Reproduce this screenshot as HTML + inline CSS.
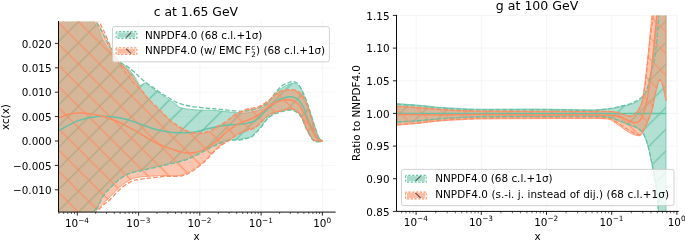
<!DOCTYPE html>
<html lang="en"><head><meta charset="utf-8"><title>PDF comparison</title>
<style>html,body{margin:0;padding:0;background:#fff}body{width:685px;height:240px;overflow:hidden}svg text{fill:#000}svg{will-change:transform;-webkit-font-smoothing:antialiased}</style></head>
<body>
<svg width="685" height="240" viewBox="0 0 685 240" style="display:block;font-family:'DejaVu Sans', 'Liberation Sans', sans-serif">
<rect width="685" height="240" fill="#fff"/>
<defs>
<pattern id="hg" width="21.18" height="21.18" patternUnits="userSpaceOnUse" patternTransform="translate(15.30 0)"><path d="M-1 1L1 -1M-1 22.18L22.18 -1M20.18 22.18L22.18 20.18" stroke="#66c2a5" stroke-width="1.2" fill="none"/></pattern>
<pattern id="ho" width="21.18" height="21.18" patternUnits="userSpaceOnUse" patternTransform="translate(14.50 0)"><path d="M-1 -1L22.18 22.18M20.18 -1L22.18 1M-1 20.18L1 22.18" stroke="#fc8d62" stroke-width="1.2" stroke-opacity="0.88" fill="none"/></pattern>
<pattern id="hg2" width="21.67" height="21.67" patternUnits="userSpaceOnUse" patternTransform="translate(15.05 0)"><path d="M-1 1L1 -1M-1 22.67L22.67 -1M20.67 22.67L22.67 20.67" stroke="#66c2a5" stroke-width="1.2" fill="none"/></pattern>
<pattern id="ho2" width="21.67" height="21.67" patternUnits="userSpaceOnUse" patternTransform="translate(5.50 0)"><path d="M-1 -1L22.67 22.67M20.67 -1L22.67 1M-1 20.67L1 22.67" stroke="#fc8d62" stroke-width="1.2" stroke-opacity="0.88" fill="none"/></pattern>
<clipPath id="cl"><rect x="58.5" y="21.5" width="276.6" height="190.6"/></clipPath>
<clipPath id="cr"><rect x="396.5" y="15.4" width="281.8" height="196.0"/></clipPath>
</defs>
<line x1="77.3" y1="21.5" x2="77.3" y2="212.1" stroke="#f3f3f3" stroke-width="0.85"/>
<line x1="138.6" y1="21.5" x2="138.6" y2="212.1" stroke="#f3f3f3" stroke-width="0.85"/>
<line x1="199.8" y1="21.5" x2="199.8" y2="212.1" stroke="#f3f3f3" stroke-width="0.85"/>
<line x1="261.1" y1="21.5" x2="261.1" y2="212.1" stroke="#f3f3f3" stroke-width="0.85"/>
<line x1="322.4" y1="21.5" x2="322.4" y2="212.1" stroke="#f3f3f3" stroke-width="0.85"/>
<line x1="58.5" y1="43.4" x2="335.1" y2="43.4" stroke="#f3f3f3" stroke-width="0.85"/>
<line x1="58.5" y1="67.8" x2="335.1" y2="67.8" stroke="#f3f3f3" stroke-width="0.85"/>
<line x1="58.5" y1="92.2" x2="335.1" y2="92.2" stroke="#f3f3f3" stroke-width="0.85"/>
<line x1="58.5" y1="116.6" x2="335.1" y2="116.6" stroke="#f3f3f3" stroke-width="0.85"/>
<line x1="58.5" y1="141.0" x2="335.1" y2="141.0" stroke="#f3f3f3" stroke-width="0.85"/>
<line x1="58.5" y1="165.4" x2="335.1" y2="165.4" stroke="#f3f3f3" stroke-width="0.85"/>
<line x1="58.5" y1="189.8" x2="335.1" y2="189.8" stroke="#f3f3f3" stroke-width="0.85"/>
<g clip-path="url(#cl)">
<path d="M50.0 -40.0C57.3 -29.8 85.0 8.2 93.7 21.5C102.5 34.8 99.6 34.3 102.5 39.5C105.4 44.7 109.0 49.5 111.2 52.6C113.4 55.7 114.0 56.5 115.5 58.0C117.0 59.5 118.2 60.3 120.0 61.8C121.8 63.2 124.4 65.1 126.2 66.7C128.0 68.3 129.2 69.8 130.7 71.6C132.2 73.4 133.8 75.3 135.2 77.5C136.6 79.7 138.4 83.3 139.3 84.6C140.2 85.9 139.6 85.6 140.6 85.3C141.6 85.0 144.0 82.9 145.4 82.9C146.8 83.0 147.5 84.5 149.0 85.6C150.5 86.7 152.1 88.0 154.2 89.5C156.3 91.0 159.0 92.8 161.4 94.5C163.8 96.2 166.2 97.7 168.7 99.4C171.2 101.1 174.9 103.5 176.6 104.8C178.3 106.1 177.4 106.3 179.0 107.0C180.6 107.7 182.7 108.4 186.2 108.9C189.7 109.4 196.2 109.9 200.2 110.1C204.2 110.3 207.0 110.1 210.0 110.2C213.0 110.3 212.7 110.3 218.0 110.8C223.3 111.3 236.3 112.8 241.6 113.0C246.9 113.2 247.3 112.7 250.0 112.3C252.7 111.9 255.5 111.5 258.0 110.5C260.5 109.5 262.8 107.9 265.0 106.0C267.2 104.1 268.8 101.5 271.0 99.0C273.2 96.5 275.7 93.1 278.0 91.0C280.3 88.9 282.4 87.6 285.0 86.3C287.6 85.0 291.0 83.2 293.3 83.2C295.6 83.2 297.4 84.4 299.0 86.0C300.6 87.6 301.5 90.2 302.8 93.0C304.1 95.8 305.5 99.0 307.0 103.0C308.5 107.0 310.4 112.8 311.8 117.0C313.2 121.2 314.2 124.7 315.3 128.0C316.4 131.3 317.3 134.8 318.5 137.0C319.7 139.2 321.8 140.3 322.4 141.0L322.4 141.0C321.2 141.0 316.8 141.4 315.0 140.8C313.2 140.2 313.0 139.7 311.5 137.6C310.0 135.5 307.9 131.4 306.2 128.0C304.5 124.5 302.9 119.6 301.4 116.9C299.9 114.2 298.6 113.0 297.0 111.8C295.4 110.6 293.8 109.8 291.7 109.5C289.6 109.2 287.3 109.8 284.7 110.3C282.1 110.8 278.3 112.0 276.0 112.8C273.7 113.6 272.7 114.1 271.0 115.3C269.3 116.5 267.8 117.9 266.0 120.0C264.2 122.1 261.7 126.0 260.0 128.0C258.3 130.1 257.1 130.9 255.6 132.3C254.1 133.7 253.5 135.4 251.0 136.6C248.5 137.8 244.3 138.6 240.5 139.2C236.7 139.8 232.1 139.2 228.2 140.0C224.3 140.8 221.2 142.2 217.0 144.0C212.8 145.8 208.1 148.5 203.0 151.0C197.9 153.5 193.2 156.8 186.6 159.1C180.0 161.4 170.2 163.3 163.3 165.0C156.4 166.7 150.4 167.9 145.0 169.2C139.6 170.5 134.7 171.3 130.8 172.6C126.9 173.9 124.6 175.1 121.6 177.2C118.5 179.3 115.5 182.1 112.5 185.2C109.5 188.2 106.0 191.5 103.3 195.5C100.6 199.5 98.1 206.3 96.4 209.0C94.7 211.7 100.7 203.0 93.0 211.5C85.3 220.0 57.2 251.9 50.0 260.0Z" fill="#66c2a5" fill-opacity="0.5" stroke="none"/>
<path d="M50.0 -40.0C57.3 -29.8 85.0 8.2 93.7 21.5C102.5 34.8 99.6 34.3 102.5 39.5C105.4 44.7 109.0 49.5 111.2 52.6C113.4 55.7 114.0 56.5 115.5 58.0C117.0 59.5 118.2 60.3 120.0 61.8C121.8 63.2 124.4 65.1 126.2 66.7C128.0 68.3 129.2 69.8 130.7 71.6C132.2 73.4 133.8 75.3 135.2 77.5C136.6 79.7 138.4 83.3 139.3 84.6C140.2 85.9 139.6 85.6 140.6 85.3C141.6 85.0 144.0 82.9 145.4 82.9C146.8 83.0 147.5 84.5 149.0 85.6C150.5 86.7 152.1 88.0 154.2 89.5C156.3 91.0 159.0 92.8 161.4 94.5C163.8 96.2 166.2 97.7 168.7 99.4C171.2 101.1 174.9 103.5 176.6 104.8C178.3 106.1 177.4 106.3 179.0 107.0C180.6 107.7 182.7 108.4 186.2 108.9C189.7 109.4 196.2 109.9 200.2 110.1C204.2 110.3 207.0 110.1 210.0 110.2C213.0 110.3 212.7 110.3 218.0 110.8C223.3 111.3 236.3 112.8 241.6 113.0C246.9 113.2 247.3 112.7 250.0 112.3C252.7 111.9 255.5 111.5 258.0 110.5C260.5 109.5 262.8 107.9 265.0 106.0C267.2 104.1 268.8 101.5 271.0 99.0C273.2 96.5 275.7 93.1 278.0 91.0C280.3 88.9 282.4 87.6 285.0 86.3C287.6 85.0 291.0 83.2 293.3 83.2C295.6 83.2 297.4 84.4 299.0 86.0C300.6 87.6 301.5 90.2 302.8 93.0C304.1 95.8 305.5 99.0 307.0 103.0C308.5 107.0 310.4 112.8 311.8 117.0C313.2 121.2 314.2 124.7 315.3 128.0C316.4 131.3 317.3 134.8 318.5 137.0C319.7 139.2 321.8 140.3 322.4 141.0L322.4 141.0C321.2 141.0 316.8 141.4 315.0 140.8C313.2 140.2 313.0 139.7 311.5 137.6C310.0 135.5 307.9 131.4 306.2 128.0C304.5 124.5 302.9 119.6 301.4 116.9C299.9 114.2 298.6 113.0 297.0 111.8C295.4 110.6 293.8 109.8 291.7 109.5C289.6 109.2 287.3 109.8 284.7 110.3C282.1 110.8 278.3 112.0 276.0 112.8C273.7 113.6 272.7 114.1 271.0 115.3C269.3 116.5 267.8 117.9 266.0 120.0C264.2 122.1 261.7 126.0 260.0 128.0C258.3 130.1 257.1 130.9 255.6 132.3C254.1 133.7 253.5 135.4 251.0 136.6C248.5 137.8 244.3 138.6 240.5 139.2C236.7 139.8 232.1 139.2 228.2 140.0C224.3 140.8 221.2 142.2 217.0 144.0C212.8 145.8 208.1 148.5 203.0 151.0C197.9 153.5 193.2 156.8 186.6 159.1C180.0 161.4 170.2 163.3 163.3 165.0C156.4 166.7 150.4 167.9 145.0 169.2C139.6 170.5 134.7 171.3 130.8 172.6C126.9 173.9 124.6 175.1 121.6 177.2C118.5 179.3 115.5 182.1 112.5 185.2C109.5 188.2 106.0 191.5 103.3 195.5C100.6 199.5 98.1 206.3 96.4 209.0C94.7 211.7 100.7 203.0 93.0 211.5C85.3 220.0 57.2 251.9 50.0 260.0Z" fill="url(#hg)" stroke="#66c2a5" stroke-width="0.85" stroke-opacity="0.9"/>
<path d="M52.0 -40.0C59.4 -29.8 87.8 8.5 96.6 21.5C105.3 34.5 102.2 33.4 104.5 38.0C106.8 42.6 108.9 45.8 110.5 49.0C112.1 52.2 112.7 55.0 114.0 57.2C115.3 59.4 116.8 60.7 118.6 62.4C120.4 64.1 123.3 65.9 125.1 67.6C126.9 69.3 128.0 70.7 129.5 72.4C131.0 74.2 132.2 75.6 133.9 78.1C135.6 80.6 137.4 84.0 139.6 87.2C141.8 90.4 144.6 94.5 146.9 97.3C149.2 100.1 150.3 101.2 153.3 104.3C156.3 107.4 161.1 112.4 165.0 116.0C168.9 119.6 172.7 123.1 176.6 125.8C180.5 128.5 185.2 130.7 188.3 132.0C191.4 133.3 193.1 133.4 195.0 133.7C196.9 134.0 198.2 133.7 200.0 133.6C201.8 133.5 203.4 133.5 205.5 132.9C207.6 132.3 210.8 131.0 212.5 130.2C214.2 129.4 213.7 129.4 216.0 128.0C218.3 126.6 223.4 124.1 226.5 122.0C229.6 119.9 231.3 117.5 234.6 115.5C237.9 113.5 242.4 111.5 246.3 110.2C250.2 108.9 254.5 109.1 258.0 107.8C261.5 106.5 264.5 104.5 267.2 102.5C269.9 100.5 271.9 97.8 274.2 96.0C276.5 94.2 278.6 92.5 281.2 91.6C283.8 90.7 287.4 90.4 290.0 90.4C292.6 90.4 295.0 90.7 297.0 91.6C299.0 92.5 300.8 94.1 302.2 96.0C303.6 97.9 304.5 100.2 305.7 103.0C306.9 105.8 307.8 108.3 309.2 112.6C310.6 116.8 312.7 124.2 314.1 128.5C315.5 132.8 316.2 136.4 317.6 138.5C319.0 140.6 321.6 140.6 322.4 141.0L322.4 141.0C321.2 140.9 316.8 141.1 315.0 140.4C313.2 139.7 313.0 139.2 311.5 137.0C310.0 134.8 307.9 130.7 306.2 127.2C304.5 123.7 302.9 118.7 301.4 116.0C299.9 113.3 298.6 112.0 297.0 110.8C295.4 109.6 293.8 108.8 291.7 108.6C289.6 108.4 287.3 108.8 284.7 109.4C282.1 110.0 278.6 111.1 276.0 112.0C273.4 112.9 271.3 113.1 269.0 114.6C266.7 116.1 264.3 118.9 262.0 121.0C259.7 123.1 257.4 125.7 255.0 127.2C252.6 128.7 250.2 128.9 247.5 129.9C244.8 130.9 241.9 131.7 238.7 133.4C235.5 135.2 231.1 138.5 228.2 140.4C225.3 142.3 223.8 142.7 221.2 144.7C218.6 146.7 215.2 150.0 212.5 152.6C209.8 155.2 208.5 157.5 205.3 160.3C202.2 163.1 197.9 167.1 193.6 169.6C189.3 172.1 184.6 174.5 179.6 175.5C174.6 176.5 169.9 175.2 163.3 175.5C156.7 175.8 145.4 176.3 140.0 177.0C134.6 177.7 134.2 177.8 130.8 179.5C127.4 181.2 123.1 184.2 119.3 187.5C115.5 190.8 112.0 195.0 108.0 199.0C104.0 203.0 105.0 201.0 95.3 211.5C85.6 222.0 57.5 253.6 50.0 262.0Z" fill="#fc8d62" fill-opacity="0.5" stroke="none"/>
<path d="M52.0 -40.0C59.4 -29.8 87.8 8.5 96.6 21.5C105.3 34.5 102.2 33.4 104.5 38.0C106.8 42.6 108.9 45.8 110.5 49.0C112.1 52.2 112.7 55.0 114.0 57.2C115.3 59.4 116.8 60.7 118.6 62.4C120.4 64.1 123.3 65.9 125.1 67.6C126.9 69.3 128.0 70.7 129.5 72.4C131.0 74.2 132.2 75.6 133.9 78.1C135.6 80.6 137.4 84.0 139.6 87.2C141.8 90.4 144.6 94.5 146.9 97.3C149.2 100.1 150.3 101.2 153.3 104.3C156.3 107.4 161.1 112.4 165.0 116.0C168.9 119.6 172.7 123.1 176.6 125.8C180.5 128.5 185.2 130.7 188.3 132.0C191.4 133.3 193.1 133.4 195.0 133.7C196.9 134.0 198.2 133.7 200.0 133.6C201.8 133.5 203.4 133.5 205.5 132.9C207.6 132.3 210.8 131.0 212.5 130.2C214.2 129.4 213.7 129.4 216.0 128.0C218.3 126.6 223.4 124.1 226.5 122.0C229.6 119.9 231.3 117.5 234.6 115.5C237.9 113.5 242.4 111.5 246.3 110.2C250.2 108.9 254.5 109.1 258.0 107.8C261.5 106.5 264.5 104.5 267.2 102.5C269.9 100.5 271.9 97.8 274.2 96.0C276.5 94.2 278.6 92.5 281.2 91.6C283.8 90.7 287.4 90.4 290.0 90.4C292.6 90.4 295.0 90.7 297.0 91.6C299.0 92.5 300.8 94.1 302.2 96.0C303.6 97.9 304.5 100.2 305.7 103.0C306.9 105.8 307.8 108.3 309.2 112.6C310.6 116.8 312.7 124.2 314.1 128.5C315.5 132.8 316.2 136.4 317.6 138.5C319.0 140.6 321.6 140.6 322.4 141.0L322.4 141.0C321.2 140.9 316.8 141.1 315.0 140.4C313.2 139.7 313.0 139.2 311.5 137.0C310.0 134.8 307.9 130.7 306.2 127.2C304.5 123.7 302.9 118.7 301.4 116.0C299.9 113.3 298.6 112.0 297.0 110.8C295.4 109.6 293.8 108.8 291.7 108.6C289.6 108.4 287.3 108.8 284.7 109.4C282.1 110.0 278.6 111.1 276.0 112.0C273.4 112.9 271.3 113.1 269.0 114.6C266.7 116.1 264.3 118.9 262.0 121.0C259.7 123.1 257.4 125.7 255.0 127.2C252.6 128.7 250.2 128.9 247.5 129.9C244.8 130.9 241.9 131.7 238.7 133.4C235.5 135.2 231.1 138.5 228.2 140.4C225.3 142.3 223.8 142.7 221.2 144.7C218.6 146.7 215.2 150.0 212.5 152.6C209.8 155.2 208.5 157.5 205.3 160.3C202.2 163.1 197.9 167.1 193.6 169.6C189.3 172.1 184.6 174.5 179.6 175.5C174.6 176.5 169.9 175.2 163.3 175.5C156.7 175.8 145.4 176.3 140.0 177.0C134.6 177.7 134.2 177.8 130.8 179.5C127.4 181.2 123.1 184.2 119.3 187.5C115.5 190.8 112.0 195.0 108.0 199.0C104.0 203.0 105.0 201.0 95.3 211.5C85.6 222.0 57.5 253.6 50.0 262.0Z" fill="url(#ho)" stroke="#fc8d62" stroke-width="0.85" stroke-opacity="0.9"/>
<path d="M59.0 130.4C62.2 128.8 72.0 122.9 78.3 120.6C84.6 118.3 90.8 117.0 97.0 116.4C103.2 115.9 110.4 116.7 115.6 117.3C120.8 117.9 124.3 118.8 128.0 119.8C131.7 120.8 133.0 121.4 137.5 123.0C142.0 124.6 149.2 127.6 155.0 129.2C160.8 130.8 167.5 131.8 172.5 132.4C177.5 133.0 181.2 132.9 185.0 132.8C188.8 132.7 191.0 132.7 195.0 132.0C199.0 131.3 204.3 129.6 209.0 128.5C213.7 127.4 217.6 126.2 223.0 125.5C228.4 124.8 236.2 124.9 241.6 124.1C247.0 123.3 251.9 122.5 255.6 120.6C259.3 118.7 261.5 114.8 264.0 112.5C266.5 110.2 268.1 108.7 270.7 106.5C273.3 104.3 276.6 101.1 279.5 99.5C282.4 97.9 285.7 97.2 288.2 96.9C290.7 96.6 292.5 96.7 294.4 97.4C296.3 98.1 298.0 99.4 299.6 101.2C301.2 103.0 302.8 105.7 304.0 108.2C305.2 110.7 305.4 113.0 306.6 116.1C307.8 119.2 309.5 123.3 311.1 126.8C312.7 130.3 314.1 134.6 316.0 137.0C317.9 139.4 321.3 140.3 322.4 141.0" fill="none" stroke="#66c2a5" stroke-width="1.5"/>
<path d="M60.0 -40.0C66.0 -29.8 88.6 9.2 95.8 21.5C103.0 33.8 100.7 29.4 103.0 33.5C105.3 37.6 107.5 42.2 109.5 46.0C111.5 49.8 113.2 53.6 115.2 56.5C117.2 59.4 119.5 61.5 121.6 63.2C123.7 64.9 125.8 65.4 127.7 66.7C129.6 68.0 131.4 69.7 133.0 71.1C134.6 72.5 136.1 73.8 137.4 75.1C138.7 76.3 139.3 77.2 140.9 78.6C142.5 79.9 144.7 81.6 146.9 83.2C149.1 84.8 151.8 86.6 154.2 88.3C156.6 90.0 159.0 91.8 161.4 93.4C163.8 95.0 166.2 96.3 168.7 97.8C171.2 99.3 172.9 100.9 176.6 102.3C180.2 103.7 185.0 105.3 190.6 106.3C196.2 107.3 205.4 108.0 210.0 108.5C214.6 109.0 213.0 108.5 218.3 109.0C223.6 109.5 235.4 111.3 241.6 111.3C247.8 111.3 251.3 110.3 255.6 109.0C259.9 107.7 264.2 105.7 267.3 103.2C270.4 100.7 271.9 97.0 274.2 94.2C276.5 91.4 278.9 88.3 281.2 86.4C283.5 84.5 286.1 83.7 288.2 82.9C290.2 82.1 291.8 81.3 293.5 81.6C295.2 81.9 297.1 82.8 298.7 84.6C300.3 86.4 301.8 89.7 303.1 92.5C304.4 95.3 305.4 98.0 306.6 101.2C307.8 104.4 308.7 107.2 310.1 111.7C311.6 116.2 313.8 123.6 315.3 128.0C316.8 132.4 317.8 135.8 319.0 138.0C320.2 140.2 321.8 140.5 322.4 141.0" fill="none" stroke="#66c2a5" stroke-width="1.3" stroke-dasharray="4.6 2"/>
<path d="M50.0 260.6C57.2 252.5 85.3 220.6 93.0 212.1C100.7 203.6 94.7 212.3 96.4 209.6C98.1 206.9 100.6 200.1 103.3 196.1C106.0 192.1 109.5 188.8 112.5 185.8C115.5 182.7 118.5 179.9 121.6 177.8C124.6 175.7 126.9 174.5 130.8 173.2C134.7 171.9 139.6 171.1 145.0 169.8C150.4 168.5 156.4 167.3 163.3 165.6C170.2 163.9 180.0 162.0 186.6 159.7C193.2 157.4 197.9 154.1 203.0 151.6C208.1 149.1 212.8 146.4 217.0 144.6C221.2 142.8 224.3 141.4 228.2 140.6C232.1 139.8 236.7 140.4 240.5 139.8C244.3 139.2 248.5 138.3 251.0 137.2C253.5 136.0 254.1 134.3 255.6 132.9C257.1 131.5 258.3 130.7 260.0 128.6C261.7 126.5 264.2 122.7 266.0 120.6C267.8 118.5 269.3 117.1 271.0 115.9C272.7 114.7 273.7 114.2 276.0 113.4C278.3 112.6 282.1 111.4 284.7 110.9C287.3 110.3 289.6 109.8 291.7 110.1C293.8 110.3 295.4 111.2 297.0 112.4C298.6 113.6 299.9 114.8 301.4 117.5C302.9 120.2 304.5 125.1 306.2 128.6C307.9 132.0 310.0 136.1 311.5 138.2C313.0 140.3 313.2 140.8 315.0 141.4C316.8 142.0 321.2 141.6 322.4 141.6" fill="none" stroke="#66c2a5" stroke-width="1.3" stroke-dasharray="4.6 2"/>
<path d="M59.0 117.8C60.7 117.2 65.0 114.9 69.0 114.1C73.0 113.3 77.6 112.7 83.0 113.0C88.4 113.3 95.8 114.5 101.6 116.0C107.4 117.5 113.6 120.0 118.0 121.8C122.4 123.6 124.8 125.1 128.0 126.8C131.2 128.5 133.0 129.3 137.5 131.9C142.0 134.5 149.5 139.6 155.0 142.4C160.5 145.2 166.2 147.0 170.5 148.6C174.8 150.2 177.5 151.4 181.0 152.1C184.5 152.8 188.0 153.3 191.5 153.0C195.0 152.7 198.5 151.9 202.0 150.4C205.5 148.9 209.5 146.2 212.5 144.2C215.5 142.1 217.7 140.1 220.0 138.1C222.3 136.1 223.7 134.2 226.5 132.0C229.3 129.8 233.5 126.6 237.0 124.6C240.5 122.6 244.5 121.5 247.5 120.2C250.5 118.9 252.6 118.4 255.0 117.0C257.4 115.6 259.4 113.9 262.0 112.0C264.6 110.1 267.8 107.3 270.7 105.5C273.6 103.7 276.6 102.0 279.5 101.0C282.4 100.0 285.7 99.8 288.0 99.8C290.3 99.8 291.6 99.9 293.5 100.9C295.4 101.9 297.9 103.5 299.6 105.6C301.4 107.7 302.4 110.4 304.0 113.5C305.6 116.6 307.3 120.6 309.0 124.0C310.7 127.4 312.5 131.4 314.0 134.0C315.5 136.6 316.6 138.3 318.0 139.5C319.4 140.7 321.7 140.8 322.4 141.0" fill="none" stroke="#fc8d62" stroke-width="1.5"/>
<path d="M65.0 -40.0C70.7 -29.8 92.2 8.8 99.0 21.5C105.8 34.2 104.0 31.6 106.0 36.0C108.0 40.5 109.6 44.5 111.2 48.2C112.8 51.9 113.9 55.1 115.5 58.0C117.1 60.9 119.2 63.2 120.7 65.4C122.2 67.6 122.9 69.2 124.2 71.1C125.5 73.0 127.0 74.8 128.6 76.8C130.2 78.8 131.4 80.5 133.7 83.0C136.0 85.5 140.1 88.9 142.5 91.5C144.9 94.1 145.4 95.7 148.3 98.8C151.2 101.9 156.3 106.5 160.0 110.1C163.7 113.7 167.0 117.5 170.5 120.4C174.0 123.3 178.0 125.8 181.0 127.6C184.0 129.4 186.0 130.4 188.3 131.3C190.6 132.2 193.1 132.7 195.0 133.0C196.9 133.3 198.2 133.0 200.0 132.9C201.8 132.8 203.4 132.8 205.5 132.2C207.6 131.6 210.8 130.3 212.5 129.5C214.2 128.7 213.7 128.7 216.0 127.3C218.3 125.9 223.4 123.3 226.5 121.2C229.6 119.1 231.3 116.7 234.6 114.7C237.9 112.7 242.4 110.7 246.3 109.4C250.2 108.1 254.5 108.3 258.0 107.0C261.5 105.7 264.5 103.7 267.2 101.7C269.9 99.7 271.9 97.0 274.2 95.2C276.5 93.4 278.6 91.7 281.2 90.8C283.8 89.9 287.4 89.6 290.0 89.6C292.6 89.6 295.0 89.9 297.0 90.8C299.0 91.7 300.8 93.3 302.2 95.2C303.6 97.1 304.5 99.4 305.7 102.2C306.9 105.0 307.8 107.5 309.2 111.8C310.6 116.0 312.7 123.3 314.1 127.7C315.5 132.1 316.2 135.8 317.6 138.0C319.0 140.2 321.6 140.5 322.4 141.0" fill="none" stroke="#fc8d62" stroke-width="1.3" stroke-dasharray="4.6 2"/>
<path d="M50.0 264.0C57.8 255.2 87.2 222.1 97.0 211.5C106.8 200.9 105.1 204.2 109.0 200.5C112.9 196.8 116.5 192.2 120.3 189.0C124.0 185.8 128.2 182.9 131.5 181.3C134.8 179.7 134.7 180.2 140.0 179.4C145.3 178.6 156.3 177.1 163.3 176.5C170.3 175.9 176.9 176.9 182.0 175.8C187.1 174.8 189.7 172.7 193.6 170.2C197.5 167.7 202.2 163.8 205.3 161.0C208.5 158.2 209.8 155.8 212.5 153.2C215.2 150.6 218.6 147.3 221.2 145.3C223.8 143.3 225.3 142.9 228.2 141.0C231.1 139.1 235.5 135.8 238.7 134.0C241.9 132.2 244.8 131.5 247.5 130.5C250.2 129.5 252.6 129.3 255.0 127.8C257.4 126.3 259.7 123.7 262.0 121.6C264.3 119.5 266.7 116.5 269.0 115.0C271.3 113.5 273.4 113.3 276.0 112.4C278.6 111.5 282.1 110.4 284.7 109.8C287.3 109.2 289.6 108.8 291.7 109.0C293.8 109.2 295.4 110.0 297.0 111.2C298.6 112.4 299.9 113.7 301.4 116.4C302.9 119.2 304.5 124.2 306.2 127.7C307.9 131.2 310.0 135.2 311.5 137.3C313.0 139.5 313.2 140.0 315.0 140.6C316.8 141.2 321.2 140.9 322.4 141.0" fill="none" stroke="#fc8d62" stroke-width="1.3" stroke-dasharray="4.6 2"/>
</g>
<path d="M58.5 21.5L58.5 212.1L335.1 212.1" fill="none" stroke="#000" stroke-width="0.95" stroke-linecap="square"/>
<line x1="77.3" y1="212.1" x2="77.3" y2="215.6" stroke="#000" stroke-width="0.85"/>
<text x="77.0" y="226.8" font-size="10.4" text-anchor="middle">10<tspan dy="-4.2" font-size="7.3">−4</tspan></text>
<line x1="138.6" y1="212.1" x2="138.6" y2="215.6" stroke="#000" stroke-width="0.85"/>
<text x="138.3" y="226.8" font-size="10.4" text-anchor="middle">10<tspan dy="-4.2" font-size="7.3">−3</tspan></text>
<line x1="199.8" y1="212.1" x2="199.8" y2="215.6" stroke="#000" stroke-width="0.85"/>
<text x="199.5" y="226.8" font-size="10.4" text-anchor="middle">10<tspan dy="-4.2" font-size="7.3">−2</tspan></text>
<line x1="261.1" y1="212.1" x2="261.1" y2="215.6" stroke="#000" stroke-width="0.85"/>
<text x="260.8" y="226.8" font-size="10.4" text-anchor="middle">10<tspan dy="-4.2" font-size="7.3">−1</tspan></text>
<line x1="322.4" y1="212.1" x2="322.4" y2="215.6" stroke="#000" stroke-width="0.85"/>
<text x="322.1" y="226.8" font-size="10.4" text-anchor="middle">10<tspan dy="-4.2" font-size="7.3">0</tspan></text>
<line x1="58.9" y1="212.1" x2="58.9" y2="214.0" stroke="#000" stroke-width="0.6"/>
<line x1="63.7" y1="212.1" x2="63.7" y2="214.0" stroke="#000" stroke-width="0.6"/>
<line x1="67.8" y1="212.1" x2="67.8" y2="214.0" stroke="#000" stroke-width="0.6"/>
<line x1="71.4" y1="212.1" x2="71.4" y2="214.0" stroke="#000" stroke-width="0.6"/>
<line x1="74.5" y1="212.1" x2="74.5" y2="214.0" stroke="#000" stroke-width="0.6"/>
<line x1="95.7" y1="212.1" x2="95.7" y2="214.0" stroke="#000" stroke-width="0.6"/>
<line x1="106.5" y1="212.1" x2="106.5" y2="214.0" stroke="#000" stroke-width="0.6"/>
<line x1="114.2" y1="212.1" x2="114.2" y2="214.0" stroke="#000" stroke-width="0.6"/>
<line x1="120.1" y1="212.1" x2="120.1" y2="214.0" stroke="#000" stroke-width="0.6"/>
<line x1="125.0" y1="212.1" x2="125.0" y2="214.0" stroke="#000" stroke-width="0.6"/>
<line x1="129.1" y1="212.1" x2="129.1" y2="214.0" stroke="#000" stroke-width="0.6"/>
<line x1="132.6" y1="212.1" x2="132.6" y2="214.0" stroke="#000" stroke-width="0.6"/>
<line x1="135.8" y1="212.1" x2="135.8" y2="214.0" stroke="#000" stroke-width="0.6"/>
<line x1="157.0" y1="212.1" x2="157.0" y2="214.0" stroke="#000" stroke-width="0.6"/>
<line x1="167.8" y1="212.1" x2="167.8" y2="214.0" stroke="#000" stroke-width="0.6"/>
<line x1="175.5" y1="212.1" x2="175.5" y2="214.0" stroke="#000" stroke-width="0.6"/>
<line x1="181.4" y1="212.1" x2="181.4" y2="214.0" stroke="#000" stroke-width="0.6"/>
<line x1="186.2" y1="212.1" x2="186.2" y2="214.0" stroke="#000" stroke-width="0.6"/>
<line x1="190.3" y1="212.1" x2="190.3" y2="214.0" stroke="#000" stroke-width="0.6"/>
<line x1="193.9" y1="212.1" x2="193.9" y2="214.0" stroke="#000" stroke-width="0.6"/>
<line x1="197.0" y1="212.1" x2="197.0" y2="214.0" stroke="#000" stroke-width="0.6"/>
<line x1="218.3" y1="212.1" x2="218.3" y2="214.0" stroke="#000" stroke-width="0.6"/>
<line x1="229.1" y1="212.1" x2="229.1" y2="214.0" stroke="#000" stroke-width="0.6"/>
<line x1="236.7" y1="212.1" x2="236.7" y2="214.0" stroke="#000" stroke-width="0.6"/>
<line x1="242.7" y1="212.1" x2="242.7" y2="214.0" stroke="#000" stroke-width="0.6"/>
<line x1="247.5" y1="212.1" x2="247.5" y2="214.0" stroke="#000" stroke-width="0.6"/>
<line x1="251.6" y1="212.1" x2="251.6" y2="214.0" stroke="#000" stroke-width="0.6"/>
<line x1="255.2" y1="212.1" x2="255.2" y2="214.0" stroke="#000" stroke-width="0.6"/>
<line x1="258.3" y1="212.1" x2="258.3" y2="214.0" stroke="#000" stroke-width="0.6"/>
<line x1="279.6" y1="212.1" x2="279.6" y2="214.0" stroke="#000" stroke-width="0.6"/>
<line x1="290.3" y1="212.1" x2="290.3" y2="214.0" stroke="#000" stroke-width="0.6"/>
<line x1="298.0" y1="212.1" x2="298.0" y2="214.0" stroke="#000" stroke-width="0.6"/>
<line x1="303.9" y1="212.1" x2="303.9" y2="214.0" stroke="#000" stroke-width="0.6"/>
<line x1="308.8" y1="212.1" x2="308.8" y2="214.0" stroke="#000" stroke-width="0.6"/>
<line x1="312.9" y1="212.1" x2="312.9" y2="214.0" stroke="#000" stroke-width="0.6"/>
<line x1="316.4" y1="212.1" x2="316.4" y2="214.0" stroke="#000" stroke-width="0.6"/>
<line x1="319.6" y1="212.1" x2="319.6" y2="214.0" stroke="#000" stroke-width="0.6"/>
<line x1="54.9" y1="43.4" x2="58.5" y2="43.4" stroke="#000" stroke-width="0.85"/>
<text x="51.5" y="47.5" font-size="10.4" text-anchor="end">0.020</text>
<line x1="54.9" y1="67.8" x2="58.5" y2="67.8" stroke="#000" stroke-width="0.85"/>
<text x="51.5" y="71.9" font-size="10.4" text-anchor="end">0.015</text>
<line x1="54.9" y1="92.2" x2="58.5" y2="92.2" stroke="#000" stroke-width="0.85"/>
<text x="51.5" y="96.3" font-size="10.4" text-anchor="end">0.010</text>
<line x1="54.9" y1="116.6" x2="58.5" y2="116.6" stroke="#000" stroke-width="0.85"/>
<text x="51.5" y="120.7" font-size="10.4" text-anchor="end">0.005</text>
<line x1="54.9" y1="141.0" x2="58.5" y2="141.0" stroke="#000" stroke-width="0.85"/>
<text x="51.5" y="145.1" font-size="10.4" text-anchor="end">0.000</text>
<line x1="54.9" y1="165.4" x2="58.5" y2="165.4" stroke="#000" stroke-width="0.85"/>
<text x="51.5" y="169.5" font-size="10.4" text-anchor="end">−0.005</text>
<line x1="54.9" y1="189.8" x2="58.5" y2="189.8" stroke="#000" stroke-width="0.85"/>
<text x="51.5" y="193.9" font-size="10.4" text-anchor="end">−0.010</text>
<line x1="416.1" y1="15.4" x2="416.1" y2="211.4" stroke="#f3f3f3" stroke-width="0.85"/>
<line x1="481.3" y1="15.4" x2="481.3" y2="211.4" stroke="#f3f3f3" stroke-width="0.85"/>
<line x1="546.5" y1="15.4" x2="546.5" y2="211.4" stroke="#f3f3f3" stroke-width="0.85"/>
<line x1="611.7" y1="15.4" x2="611.7" y2="211.4" stroke="#f3f3f3" stroke-width="0.85"/>
<line x1="676.9" y1="15.4" x2="676.9" y2="211.4" stroke="#f3f3f3" stroke-width="0.85"/>
<line x1="396.5" y1="15.4" x2="678.3" y2="15.4" stroke="#f3f3f3" stroke-width="0.85"/>
<line x1="396.5" y1="48.1" x2="678.3" y2="48.1" stroke="#f3f3f3" stroke-width="0.85"/>
<line x1="396.5" y1="80.8" x2="678.3" y2="80.8" stroke="#f3f3f3" stroke-width="0.85"/>
<line x1="396.5" y1="113.4" x2="678.3" y2="113.4" stroke="#f3f3f3" stroke-width="0.85"/>
<line x1="396.5" y1="146.1" x2="678.3" y2="146.1" stroke="#f3f3f3" stroke-width="0.85"/>
<line x1="396.5" y1="178.7" x2="678.3" y2="178.7" stroke="#f3f3f3" stroke-width="0.85"/>
<line x1="396.5" y1="211.4" x2="678.3" y2="211.4" stroke="#f3f3f3" stroke-width="0.85"/>
<g clip-path="url(#cr)">
<path d="M397.0 103.6C400.8 103.9 412.8 104.7 420.0 105.3C427.2 105.9 433.3 106.9 440.0 107.4C446.7 107.9 453.3 108.2 460.0 108.5C466.7 108.8 466.7 109.1 480.0 109.2C493.3 109.3 523.3 109.0 540.0 109.1C556.7 109.2 570.9 109.7 580.0 109.8C589.1 109.9 589.7 110.1 594.6 109.9C599.5 109.7 605.1 109.3 609.2 108.8C613.3 108.3 615.9 107.7 619.4 107.0C622.9 106.3 627.0 105.5 630.0 104.6C633.0 103.7 635.2 102.8 637.5 101.5C639.8 100.2 642.1 98.6 643.8 96.5C645.5 94.4 646.5 92.2 647.5 89.0C648.5 85.8 649.2 81.5 650.0 77.0C650.8 72.5 651.8 66.7 652.5 62.0C653.2 57.3 653.5 54.0 654.0 49.0C654.5 44.0 655.0 37.6 655.5 32.0C656.0 26.4 656.3 22.5 656.8 15.5C657.3 8.5 657.0 -5.8 658.5 -10.0C660.0 -14.2 664.8 -10.0 666.0 -10.0L666.0 230.0C664.9 230.1 660.8 233.5 659.5 230.5C658.2 227.5 658.9 218.2 658.5 212.0C658.1 205.8 657.5 197.8 657.0 193.0C656.5 188.2 656.1 186.8 655.5 183.0C654.9 179.2 653.9 174.2 653.2 170.5C652.5 166.8 651.9 164.0 651.2 160.5C650.5 157.0 649.6 152.8 648.8 149.5C648.0 146.2 647.2 143.2 646.2 140.5C645.2 137.8 644.1 135.2 643.0 133.5C641.9 131.8 640.9 131.1 639.5 130.0C638.1 128.9 636.8 128.0 634.8 127.1C632.8 126.2 630.3 125.7 627.8 124.7C625.3 123.7 622.4 122.3 619.7 121.2C617.0 120.1 613.2 118.9 611.5 118.3C609.8 117.7 612.0 118.0 609.2 117.7C606.4 117.4 599.5 116.8 594.6 116.6C589.7 116.4 589.1 116.5 580.0 116.6C570.9 116.6 556.7 116.8 540.0 116.9C523.3 117.0 493.3 117.0 480.0 117.2C466.7 117.4 466.7 117.6 460.0 117.9C453.3 118.2 446.7 118.6 440.0 119.1C433.3 119.6 427.2 120.4 420.0 121.0C412.8 121.6 400.8 122.2 397.0 122.5Z" fill="#66c2a5" fill-opacity="0.5" stroke="none"/>
<path d="M397.0 103.6C400.8 103.9 412.8 104.7 420.0 105.3C427.2 105.9 433.3 106.9 440.0 107.4C446.7 107.9 453.3 108.2 460.0 108.5C466.7 108.8 466.7 109.1 480.0 109.2C493.3 109.3 523.3 109.0 540.0 109.1C556.7 109.2 570.9 109.7 580.0 109.8C589.1 109.9 589.7 110.1 594.6 109.9C599.5 109.7 605.1 109.3 609.2 108.8C613.3 108.3 615.9 107.7 619.4 107.0C622.9 106.3 627.0 105.5 630.0 104.6C633.0 103.7 635.2 102.8 637.5 101.5C639.8 100.2 642.1 98.6 643.8 96.5C645.5 94.4 646.5 92.2 647.5 89.0C648.5 85.8 649.2 81.5 650.0 77.0C650.8 72.5 651.8 66.7 652.5 62.0C653.2 57.3 653.5 54.0 654.0 49.0C654.5 44.0 655.0 37.6 655.5 32.0C656.0 26.4 656.3 22.5 656.8 15.5C657.3 8.5 657.0 -5.8 658.5 -10.0C660.0 -14.2 664.8 -10.0 666.0 -10.0L666.0 230.0C664.9 230.1 660.8 233.5 659.5 230.5C658.2 227.5 658.9 218.2 658.5 212.0C658.1 205.8 657.5 197.8 657.0 193.0C656.5 188.2 656.1 186.8 655.5 183.0C654.9 179.2 653.9 174.2 653.2 170.5C652.5 166.8 651.9 164.0 651.2 160.5C650.5 157.0 649.6 152.8 648.8 149.5C648.0 146.2 647.2 143.2 646.2 140.5C645.2 137.8 644.1 135.2 643.0 133.5C641.9 131.8 640.9 131.1 639.5 130.0C638.1 128.9 636.8 128.0 634.8 127.1C632.8 126.2 630.3 125.7 627.8 124.7C625.3 123.7 622.4 122.3 619.7 121.2C617.0 120.1 613.2 118.9 611.5 118.3C609.8 117.7 612.0 118.0 609.2 117.7C606.4 117.4 599.5 116.8 594.6 116.6C589.7 116.4 589.1 116.5 580.0 116.6C570.9 116.6 556.7 116.8 540.0 116.9C523.3 117.0 493.3 117.0 480.0 117.2C466.7 117.4 466.7 117.6 460.0 117.9C453.3 118.2 446.7 118.6 440.0 119.1C433.3 119.6 427.2 120.4 420.0 121.0C412.8 121.6 400.8 122.2 397.0 122.5Z" fill="url(#hg2)" stroke="#66c2a5" stroke-width="0.85" stroke-opacity="0.9"/>
<path d="M397.0 105.9C400.8 106.2 412.8 106.9 420.0 107.4C427.2 108.0 433.3 108.7 440.0 109.2C446.7 109.7 453.3 110.0 460.0 110.3C466.7 110.6 466.7 110.8 480.0 110.9C493.3 111.0 523.3 111.0 540.0 111.1C556.7 111.1 570.9 111.2 580.0 111.2C589.1 111.2 589.7 111.2 594.6 111.2C599.5 111.2 605.3 111.1 609.2 111.3C613.1 111.5 615.5 111.9 617.9 112.4C620.3 112.9 621.6 113.7 623.7 114.3C625.8 114.9 628.8 116.1 630.7 116.0C632.6 115.9 633.6 115.0 635.1 113.6C636.6 112.2 638.3 109.7 639.5 107.5C640.7 105.3 641.4 103.4 642.1 100.5C642.8 97.6 643.3 93.8 643.9 90.0C644.5 86.2 644.8 83.8 645.5 78.0C646.2 72.2 647.2 62.2 648.0 55.0C648.8 47.8 649.4 41.6 650.0 35.0C650.6 28.4 651.1 23.0 651.8 15.5C652.5 8.0 651.6 -5.8 654.0 -10.0C656.4 -14.2 664.0 -10.0 666.0 -10.0L665.9 101.0C665.8 100.3 665.4 98.5 665.1 96.8C664.8 95.1 664.3 92.9 663.9 90.9C663.5 89.0 662.9 86.8 662.5 85.1C662.1 83.4 661.7 82.0 661.3 81.0C660.9 80.0 660.4 79.2 660.0 79.3C659.6 79.4 659.2 80.3 658.8 81.5C658.4 82.7 657.9 84.5 657.4 86.6C656.9 88.6 656.1 91.4 655.5 93.8C654.9 96.2 654.4 98.9 654.0 101.1C653.6 103.3 653.4 105.0 653.0 107.0C652.6 109.0 652.4 110.4 651.5 113.0C650.6 115.6 649.1 119.3 647.6 122.5C646.1 125.7 643.9 130.3 642.8 132.4C641.6 134.5 641.6 134.8 640.7 135.3C639.8 135.8 638.8 135.9 637.2 135.6C635.6 135.3 633.2 134.5 631.3 133.6C629.3 132.7 627.4 131.4 625.5 130.1C623.6 128.8 621.7 127.4 619.7 126.0C617.8 124.6 615.5 123.0 613.8 121.9C612.0 120.8 612.4 119.9 609.2 119.3C606.0 118.7 599.5 118.6 594.6 118.5C589.7 118.4 589.1 118.5 580.0 118.5C570.9 118.5 556.7 118.5 540.0 118.6C523.3 118.7 493.3 118.8 480.0 119.0C466.7 119.2 466.7 119.5 460.0 119.8C453.3 120.1 446.7 120.4 440.0 121.0C433.3 121.6 427.2 122.5 420.0 123.2C412.8 123.9 400.8 124.9 397.0 125.2Z" fill="#fc8d62" fill-opacity="0.5" stroke="none"/>
<path d="M397.0 105.9C400.8 106.2 412.8 106.9 420.0 107.4C427.2 108.0 433.3 108.7 440.0 109.2C446.7 109.7 453.3 110.0 460.0 110.3C466.7 110.6 466.7 110.8 480.0 110.9C493.3 111.0 523.3 111.0 540.0 111.1C556.7 111.1 570.9 111.2 580.0 111.2C589.1 111.2 589.7 111.2 594.6 111.2C599.5 111.2 605.3 111.1 609.2 111.3C613.1 111.5 615.5 111.9 617.9 112.4C620.3 112.9 621.6 113.7 623.7 114.3C625.8 114.9 628.8 116.1 630.7 116.0C632.6 115.9 633.6 115.0 635.1 113.6C636.6 112.2 638.3 109.7 639.5 107.5C640.7 105.3 641.4 103.4 642.1 100.5C642.8 97.6 643.3 93.8 643.9 90.0C644.5 86.2 644.8 83.8 645.5 78.0C646.2 72.2 647.2 62.2 648.0 55.0C648.8 47.8 649.4 41.6 650.0 35.0C650.6 28.4 651.1 23.0 651.8 15.5C652.5 8.0 651.6 -5.8 654.0 -10.0C656.4 -14.2 664.0 -10.0 666.0 -10.0L665.9 101.0C665.8 100.3 665.4 98.5 665.1 96.8C664.8 95.1 664.3 92.9 663.9 90.9C663.5 89.0 662.9 86.8 662.5 85.1C662.1 83.4 661.7 82.0 661.3 81.0C660.9 80.0 660.4 79.2 660.0 79.3C659.6 79.4 659.2 80.3 658.8 81.5C658.4 82.7 657.9 84.5 657.4 86.6C656.9 88.6 656.1 91.4 655.5 93.8C654.9 96.2 654.4 98.9 654.0 101.1C653.6 103.3 653.4 105.0 653.0 107.0C652.6 109.0 652.4 110.4 651.5 113.0C650.6 115.6 649.1 119.3 647.6 122.5C646.1 125.7 643.9 130.3 642.8 132.4C641.6 134.5 641.6 134.8 640.7 135.3C639.8 135.8 638.8 135.9 637.2 135.6C635.6 135.3 633.2 134.5 631.3 133.6C629.3 132.7 627.4 131.4 625.5 130.1C623.6 128.8 621.7 127.4 619.7 126.0C617.8 124.6 615.5 123.0 613.8 121.9C612.0 120.8 612.4 119.9 609.2 119.3C606.0 118.7 599.5 118.6 594.6 118.5C589.7 118.4 589.1 118.5 580.0 118.5C570.9 118.5 556.7 118.5 540.0 118.6C523.3 118.7 493.3 118.8 480.0 119.0C466.7 119.2 466.7 119.5 460.0 119.8C453.3 120.1 446.7 120.4 440.0 121.0C433.3 121.6 427.2 122.5 420.0 123.2C412.8 123.9 400.8 124.9 397.0 125.2Z" fill="url(#ho2)" stroke="#fc8d62" stroke-width="0.85" stroke-opacity="0.9"/>
<path d="M397.0 113.5C441.8 113.5 621.2 113.5 666.0 113.5" fill="none" stroke="#66c2a5" stroke-width="1.5"/>
<path d="M397.0 104.3C400.8 104.6 412.8 105.3 420.0 105.9C427.2 106.5 433.3 107.4 440.0 107.9C446.7 108.4 453.3 108.7 460.0 109.0C466.7 109.3 466.7 109.6 480.0 109.7C493.3 109.8 523.3 109.5 540.0 109.6C556.7 109.7 570.9 110.2 580.0 110.3C589.1 110.4 589.7 110.5 594.6 110.3C599.5 110.0 605.1 109.4 609.2 108.8C613.3 108.2 615.9 107.3 619.4 106.5C622.9 105.7 627.0 104.8 630.0 103.8C633.0 102.8 635.2 101.8 637.5 100.3C639.8 98.8 642.1 97.1 643.8 95.0C645.5 92.9 646.5 90.7 647.5 87.5C648.5 84.3 648.9 80.2 650.0 76.0C651.1 71.8 653.0 66.5 654.0 62.0C655.0 57.5 655.4 54.0 656.0 49.0C656.6 44.0 657.0 37.6 657.5 32.0C658.0 26.4 658.3 22.5 658.9 15.5C659.5 8.5 660.6 -5.8 661.0 -10.0" fill="none" stroke="#66c2a5" stroke-width="1.3" stroke-dasharray="4.6 2"/>
<path d="M397.0 122.0C400.8 121.8 412.8 121.1 420.0 120.5C427.2 119.9 433.3 119.1 440.0 118.6C446.7 118.1 453.3 117.7 460.0 117.4C466.7 117.1 466.7 116.9 480.0 116.7C493.3 116.5 523.3 116.5 540.0 116.4C556.7 116.3 570.9 116.1 580.0 116.1C589.1 116.0 589.7 115.9 594.6 116.1C599.5 116.3 606.4 116.9 609.2 117.2C612.0 117.5 609.8 117.2 611.5 117.8C613.2 118.4 617.0 119.6 619.7 120.7C622.4 121.8 625.3 123.2 627.8 124.2C630.3 125.2 632.8 125.7 634.8 126.6C636.8 127.5 638.1 128.4 639.5 129.5C640.9 130.6 641.9 131.2 643.0 133.0C644.1 134.8 645.2 137.3 646.2 140.0C647.2 142.7 648.0 145.7 648.8 149.0C649.6 152.3 650.5 156.5 651.2 160.0C651.9 163.5 652.5 166.2 653.2 170.0C653.9 173.8 654.9 178.8 655.5 182.5C656.1 186.2 656.5 187.7 657.0 192.5C657.5 197.3 658.1 205.2 658.5 211.5C658.9 217.8 659.3 226.9 659.5 230.0" fill="none" stroke="#66c2a5" stroke-width="1.3" stroke-dasharray="4.6 2"/>
<path d="M397.0 114.6C404.2 114.6 426.2 114.9 440.0 114.9C453.8 114.9 463.3 114.6 480.0 114.6C496.7 114.6 523.3 115.0 540.0 115.0C556.7 115.0 568.5 114.7 580.0 114.7C591.5 114.8 602.9 115.0 609.2 115.3C615.5 115.6 615.8 116.0 617.9 116.4C620.0 116.8 620.1 116.7 622.0 117.5C623.9 118.3 626.9 120.1 629.0 121.0C631.1 121.9 633.0 122.8 634.8 122.8C636.5 122.8 638.1 122.3 639.5 121.0C640.9 119.7 642.0 117.5 643.0 115.2C644.0 112.9 644.6 109.5 645.3 107.0C646.0 104.5 646.5 103.2 647.1 100.0C647.7 96.8 648.3 93.0 649.0 88.0C649.7 83.0 650.7 77.2 651.5 70.0C652.3 62.8 653.1 54.1 654.0 45.0C654.9 35.9 656.0 24.7 656.8 15.5C657.6 6.3 658.6 -5.8 659.0 -10.0" fill="none" stroke="#fc8d62" stroke-width="1.5"/>
<path d="M397.0 106.7C400.8 106.9 412.8 107.5 420.0 108.0C427.2 108.5 433.3 109.2 440.0 109.7C446.7 110.2 453.3 110.5 460.0 110.8C466.7 111.1 466.7 111.3 480.0 111.4C493.3 111.5 523.3 111.5 540.0 111.6C556.7 111.6 570.9 111.7 580.0 111.7C589.1 111.7 589.7 111.7 594.6 111.7C599.5 111.7 605.3 111.5 609.2 111.7C613.1 111.9 615.5 112.3 617.9 112.8C620.3 113.3 621.6 114.1 623.7 114.7C625.8 115.3 628.7 116.6 630.7 116.4C632.7 116.2 634.1 115.1 635.6 113.6C637.1 112.1 638.8 109.7 640.0 107.5C641.2 105.3 641.9 103.4 642.6 100.5C643.3 97.6 643.8 93.8 644.4 90.0C645.0 86.2 645.4 83.5 646.0 78.0C646.6 72.5 647.5 64.2 648.3 57.0C649.0 49.8 649.7 41.9 650.5 35.0C651.3 28.1 652.5 23.0 653.2 15.5C654.0 8.0 654.7 -5.8 655.0 -10.0" fill="none" stroke="#fc8d62" stroke-width="1.3" stroke-dasharray="4.6 2"/>
<path d="M397.0 124.6C400.8 124.3 412.8 123.3 420.0 122.6C427.2 121.9 433.3 121.0 440.0 120.4C446.7 119.8 453.3 119.5 460.0 119.2C466.7 118.9 466.7 118.6 480.0 118.4C493.3 118.2 523.3 118.1 540.0 118.0C556.7 117.9 570.9 117.9 580.0 117.9C589.1 117.9 589.7 117.8 594.6 117.9C599.5 118.0 606.0 118.1 609.2 118.5C612.4 118.9 612.0 119.5 613.8 120.5C615.5 121.5 617.4 122.7 619.7 124.2C622.0 125.7 625.3 127.9 627.8 129.5C630.3 131.1 633.0 132.7 634.8 133.6C636.6 134.5 637.5 134.8 638.5 134.9C639.5 135.0 640.1 134.8 640.8 134.2C641.4 133.6 641.3 133.6 642.4 131.6C643.5 129.6 645.7 125.3 647.1 122.2C648.5 119.1 650.1 115.3 651.0 112.8C651.9 110.3 652.1 109.0 652.5 107.0C652.9 105.0 653.1 103.3 653.5 101.1C653.9 98.9 654.4 96.2 655.0 93.8C655.6 91.4 656.3 88.8 656.9 86.8C657.5 84.8 657.9 83.1 658.4 82.0C658.9 80.9 659.5 80.0 660.0 80.0C660.5 80.0 661.1 81.1 661.6 82.0C662.1 82.9 662.5 84.0 662.9 85.6C663.3 87.2 663.9 89.5 664.3 91.4C664.7 93.3 665.1 95.4 665.4 97.0C665.7 98.6 665.8 100.3 665.9 101.0" fill="none" stroke="#fc8d62" stroke-width="1.3" stroke-dasharray="4.6 2"/>
</g>
<path d="M396.5 15.4L396.5 211.4L678.3 211.4" fill="none" stroke="#000" stroke-width="0.95" stroke-linecap="square"/>
<line x1="416.1" y1="211.4" x2="416.1" y2="214.9" stroke="#000" stroke-width="0.85"/>
<text x="415.8" y="225.6" font-size="10.4" text-anchor="middle">10<tspan dy="-4.2" font-size="7.3">−4</tspan></text>
<line x1="481.3" y1="211.4" x2="481.3" y2="214.9" stroke="#000" stroke-width="0.85"/>
<text x="481.0" y="225.6" font-size="10.4" text-anchor="middle">10<tspan dy="-4.2" font-size="7.3">−3</tspan></text>
<line x1="546.5" y1="211.4" x2="546.5" y2="214.9" stroke="#000" stroke-width="0.85"/>
<text x="546.2" y="225.6" font-size="10.4" text-anchor="middle">10<tspan dy="-4.2" font-size="7.3">−2</tspan></text>
<line x1="611.7" y1="211.4" x2="611.7" y2="214.9" stroke="#000" stroke-width="0.85"/>
<text x="611.4" y="225.6" font-size="10.4" text-anchor="middle">10<tspan dy="-4.2" font-size="7.3">−1</tspan></text>
<line x1="676.9" y1="211.4" x2="676.9" y2="214.9" stroke="#000" stroke-width="0.85"/>
<text x="676.6" y="225.6" font-size="10.4" text-anchor="middle">10<tspan dy="-4.2" font-size="7.3">0</tspan></text>
<line x1="401.6" y1="211.4" x2="401.6" y2="213.3" stroke="#000" stroke-width="0.6"/>
<line x1="406.0" y1="211.4" x2="406.0" y2="213.3" stroke="#000" stroke-width="0.6"/>
<line x1="409.8" y1="211.4" x2="409.8" y2="213.3" stroke="#000" stroke-width="0.6"/>
<line x1="413.1" y1="211.4" x2="413.1" y2="213.3" stroke="#000" stroke-width="0.6"/>
<line x1="435.7" y1="211.4" x2="435.7" y2="213.3" stroke="#000" stroke-width="0.6"/>
<line x1="447.2" y1="211.4" x2="447.2" y2="213.3" stroke="#000" stroke-width="0.6"/>
<line x1="455.4" y1="211.4" x2="455.4" y2="213.3" stroke="#000" stroke-width="0.6"/>
<line x1="461.7" y1="211.4" x2="461.7" y2="213.3" stroke="#000" stroke-width="0.6"/>
<line x1="466.8" y1="211.4" x2="466.8" y2="213.3" stroke="#000" stroke-width="0.6"/>
<line x1="471.2" y1="211.4" x2="471.2" y2="213.3" stroke="#000" stroke-width="0.6"/>
<line x1="475.0" y1="211.4" x2="475.0" y2="213.3" stroke="#000" stroke-width="0.6"/>
<line x1="478.3" y1="211.4" x2="478.3" y2="213.3" stroke="#000" stroke-width="0.6"/>
<line x1="500.9" y1="211.4" x2="500.9" y2="213.3" stroke="#000" stroke-width="0.6"/>
<line x1="512.4" y1="211.4" x2="512.4" y2="213.3" stroke="#000" stroke-width="0.6"/>
<line x1="520.6" y1="211.4" x2="520.6" y2="213.3" stroke="#000" stroke-width="0.6"/>
<line x1="526.9" y1="211.4" x2="526.9" y2="213.3" stroke="#000" stroke-width="0.6"/>
<line x1="532.0" y1="211.4" x2="532.0" y2="213.3" stroke="#000" stroke-width="0.6"/>
<line x1="536.4" y1="211.4" x2="536.4" y2="213.3" stroke="#000" stroke-width="0.6"/>
<line x1="540.2" y1="211.4" x2="540.2" y2="213.3" stroke="#000" stroke-width="0.6"/>
<line x1="543.5" y1="211.4" x2="543.5" y2="213.3" stroke="#000" stroke-width="0.6"/>
<line x1="566.1" y1="211.4" x2="566.1" y2="213.3" stroke="#000" stroke-width="0.6"/>
<line x1="577.6" y1="211.4" x2="577.6" y2="213.3" stroke="#000" stroke-width="0.6"/>
<line x1="585.8" y1="211.4" x2="585.8" y2="213.3" stroke="#000" stroke-width="0.6"/>
<line x1="592.1" y1="211.4" x2="592.1" y2="213.3" stroke="#000" stroke-width="0.6"/>
<line x1="597.2" y1="211.4" x2="597.2" y2="213.3" stroke="#000" stroke-width="0.6"/>
<line x1="601.6" y1="211.4" x2="601.6" y2="213.3" stroke="#000" stroke-width="0.6"/>
<line x1="605.4" y1="211.4" x2="605.4" y2="213.3" stroke="#000" stroke-width="0.6"/>
<line x1="608.7" y1="211.4" x2="608.7" y2="213.3" stroke="#000" stroke-width="0.6"/>
<line x1="631.3" y1="211.4" x2="631.3" y2="213.3" stroke="#000" stroke-width="0.6"/>
<line x1="642.8" y1="211.4" x2="642.8" y2="213.3" stroke="#000" stroke-width="0.6"/>
<line x1="651.0" y1="211.4" x2="651.0" y2="213.3" stroke="#000" stroke-width="0.6"/>
<line x1="657.3" y1="211.4" x2="657.3" y2="213.3" stroke="#000" stroke-width="0.6"/>
<line x1="662.4" y1="211.4" x2="662.4" y2="213.3" stroke="#000" stroke-width="0.6"/>
<line x1="666.8" y1="211.4" x2="666.8" y2="213.3" stroke="#000" stroke-width="0.6"/>
<line x1="670.6" y1="211.4" x2="670.6" y2="213.3" stroke="#000" stroke-width="0.6"/>
<line x1="673.9" y1="211.4" x2="673.9" y2="213.3" stroke="#000" stroke-width="0.6"/>
<line x1="392.9" y1="15.4" x2="396.5" y2="15.4" stroke="#000" stroke-width="0.85"/>
<text x="389.5" y="19.5" font-size="10.4" text-anchor="end">1.15</text>
<line x1="392.9" y1="48.1" x2="396.5" y2="48.1" stroke="#000" stroke-width="0.85"/>
<text x="389.5" y="52.2" font-size="10.4" text-anchor="end">1.10</text>
<line x1="392.9" y1="80.8" x2="396.5" y2="80.8" stroke="#000" stroke-width="0.85"/>
<text x="389.5" y="84.9" font-size="10.4" text-anchor="end">1.05</text>
<line x1="392.9" y1="113.4" x2="396.5" y2="113.4" stroke="#000" stroke-width="0.85"/>
<text x="389.5" y="117.5" font-size="10.4" text-anchor="end">1.00</text>
<line x1="392.9" y1="146.1" x2="396.5" y2="146.1" stroke="#000" stroke-width="0.85"/>
<text x="389.5" y="150.2" font-size="10.4" text-anchor="end">0.95</text>
<line x1="392.9" y1="178.7" x2="396.5" y2="178.7" stroke="#000" stroke-width="0.85"/>
<text x="389.5" y="182.8" font-size="10.4" text-anchor="end">0.90</text>
<line x1="392.9" y1="211.4" x2="396.5" y2="211.4" stroke="#000" stroke-width="0.85"/>
<text x="389.5" y="215.5" font-size="10.4" text-anchor="end">0.85</text>
<text x="195.9" y="16.1" font-size="12.4" text-anchor="middle">c at 1.65 GeV</text>
<text x="537.1" y="9.5" font-size="12.55" text-anchor="middle">g at 100 GeV</text>
<text x="196.6" y="239.8" font-size="10.4" text-anchor="middle">x</text>
<text x="537.6" y="239.8" font-size="10.4" text-anchor="middle">x</text>
<text transform="translate(8.6 117.1) rotate(-90)" font-size="10.4" text-anchor="middle">xc(x)</text>
<text transform="translate(360.3 113.1) rotate(-90)" font-size="10.4" text-anchor="middle">Ratio to NNPDF4.0</text>
<rect x="112.5" y="26.6" width="216.9" height="35.3" rx="2.2" fill="#fff" fill-opacity="0.8" stroke="#ccc" stroke-width="0.9"/>
<rect x="117.5" y="32.5" width="17.9" height="5.1" fill="#66c2a5" fill-opacity="0.6"/>
<line x1="126.0" y1="37.6" x2="131.2" y2="32.5" stroke="#5a5a5a" stroke-width="1.1"/>
<rect x="116.2" y="31.6" width="20.6" height="6.8" fill="none" stroke="#66c2a5" stroke-width="1.15" stroke-opacity="0.95" stroke-dasharray="2.3 1.5" stroke-dashoffset="1.1"/>
<text x="145.0" y="38.9" font-size="10.4">NNPDF4.0 (68 c.l.+1σ)</text>
<rect x="117.5" y="48.6" width="17.9" height="5.1" fill="#fc8d62" fill-opacity="0.6"/>
<line x1="126.0" y1="48.6" x2="131.2" y2="53.7" stroke="#5a5a5a" stroke-width="1.1"/>
<rect x="116.2" y="47.7" width="20.6" height="6.8" fill="none" stroke="#fc8d62" stroke-width="1.15" stroke-opacity="0.95" stroke-dasharray="2.3 1.5" stroke-dashoffset="1.1"/>
<text x="145.0" y="54.1" font-size="10.4"><tspan letter-spacing="-0.07">NNPDF4.0 (w/ EMC F</tspan><tspan font-size="7.3" dy="2.7" dx="0.4">2</tspan><tspan font-size="7.3" dy="-6.5" dx="-4.6">c</tspan><tspan dy="3.8" dx="0.8">) (68 c.l.+1σ)</tspan></text>
<rect x="401.5" y="169.4" width="272.5" height="36.2" rx="2.2" fill="#fff" fill-opacity="0.8" stroke="#ccc" stroke-width="0.9"/>
<rect x="407.0" y="176.1" width="17.9" height="5.1" fill="#66c2a5" fill-opacity="0.6"/>
<line x1="415.4" y1="181.2" x2="420.6" y2="176.1" stroke="#5a5a5a" stroke-width="1.1"/>
<rect x="405.6" y="175.3" width="20.6" height="6.8" fill="none" stroke="#66c2a5" stroke-width="1.15" stroke-opacity="0.95" stroke-dasharray="2.3 1.5" stroke-dashoffset="1.1"/>
<text x="435.2" y="181.7" font-size="10.4">NNPDF4.0 (68 c.l.+1σ)</text>
<rect x="407.0" y="192.9" width="17.9" height="5.1" fill="#fc8d62" fill-opacity="0.6"/>
<line x1="415.4" y1="192.9" x2="420.6" y2="198.0" stroke="#5a5a5a" stroke-width="1.1"/>
<rect x="405.6" y="192.1" width="20.6" height="6.8" fill="none" stroke="#fc8d62" stroke-width="1.15" stroke-opacity="0.95" stroke-dasharray="2.3 1.5" stroke-dashoffset="1.1"/>
<text x="435.2" y="198.3" font-size="10.4" textLength="233.8" lengthAdjust="spacing">NNPDF4.0 (s.-i. j. instead of dij.) (68 c.l.+1σ)</text>
</svg>
</body></html>
